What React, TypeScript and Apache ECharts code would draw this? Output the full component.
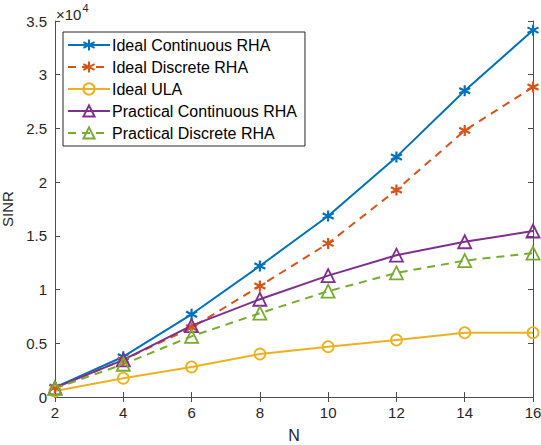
import React, { useEffect, useRef } from "react";
import * as echarts from "echarts";

const N = [2, 4, 6, 8, 10, 12, 14, 16];
const idealContinuous = [900, 3750, 7700, 12200, 16850, 22350, 28500, 34150];
const idealDiscrete = [850, 3450, 6450, 10330, 14300, 19270, 24800, 28850];
const idealULA = [550, 1750, 2800, 4000, 4680, 5300, 5980, 5980];
const practicalContinuous = [850, 3450, 6650, 9100, 11300, 13200, 14450, 15450];
const practicalDiscrete = [800, 3050, 5650, 7800, 9850, 11550, 12700, 13400];
const yTicks = [0, 5000, 10000, 15000, 20000, 25000, 30000, 35000];

const ASTERISK = "path://M0,-5L0,5M-4.33,-2.5L4.33,2.5M-4.33,2.5L4.33,-2.5";
const TRIANGLE = "path://M0,-6L5.2,3L-5.2,3Z";

export default function App() {
  const ref = useRef<HTMLDivElement>(null);
  useEffect(() => {
    const chart = echarts.init(ref.current!, null, { renderer: "svg" });
    const font = "Arial, 'Liberation Sans', sans-serif";
    const axisColor = "#4d4d4d";
    const textColor = "#262626";
    const mk = (
      name: string,
      data: number[],
      color: string,
      symbol: string,
      size: number,
      dashed: boolean,
      filled: boolean
    ) => ({
      name,
      type: "line",
      data: N.map((n, i) => [n, data[i]]),
      symbol,
      symbolSize: size,
      showAllSymbol: true,
      lineStyle: { color, width: 2, type: dashed ? [8, 6] : "solid" },
      itemStyle: {
        color: filled ? color : "rgba(255,255,255,0)",
        borderColor: color,
        borderWidth: filled ? 2.2 : 1.8,
      },
      emphasis: { disabled: true },
      z: 3,
    });
    chart.setOption({
      animation: false,
      textStyle: { fontFamily: font },
      grid: {
        left: 55,
        right: 8,
        top: 21,
        bottom: 48,
        containLabel: false,
        outerBoundsMode: "none",
      },
      legend: {
        orient: "vertical",
        left: 63,
        top: 32,
        backgroundColor: "#ffffff",
        borderColor: "#262626",
        borderWidth: 1,
        padding: [5, 8, 5, 4],
        itemGap: 6,
        itemWidth: 42,
        itemHeight: 14,
        textStyle: { fontSize: 16, color: "#000", fontFamily: font, padding: [0, 0, 0, -3] },
        data: [
          "Ideal Continuous RHA",
          "Ideal Discrete RHA",
          "Ideal ULA",
          "Practical Continuous RHA",
          "Practical Discrete RHA",
        ],
      },
      xAxis: [
        {
          type: "value",
          min: 2,
          max: 16,
          interval: 2,
          name: "N",
          nameLocation: "middle",
          nameGap: 30,
          nameTextStyle: { fontSize: 16, color: textColor },
          axisLine: { show: true, lineStyle: { color: axisColor, width: 1 } },
          axisTick: { show: true, inside: true, length: 5, lineStyle: { color: axisColor } },
          axisLabel: { fontSize: 15, color: textColor, margin: 8 },
          splitLine: { show: false },
        },
        {
          type: "value",
          position: "top",
          min: 2,
          max: 16,
          interval: 2,
          axisLine: { show: true, lineStyle: { color: axisColor, width: 1 } },
          axisTick: { show: true, inside: true, length: 5, lineStyle: { color: axisColor } },
          axisLabel: { show: false },
          splitLine: { show: false },
        },
      ],
      yAxis: [
        {
          type: "value",
          min: 0,
          max: 35000,
          interval: 5000,
          name: "SINR",
          nameLocation: "middle",
          nameGap: 34,
          nameTextStyle: { fontSize: 15, color: textColor },
          axisLine: { show: true, lineStyle: { color: axisColor, width: 1 } },
          axisTick: { show: true, inside: true, length: 5, lineStyle: { color: axisColor } },
          axisLabel: {
            fontSize: 15,
            color: textColor,
            margin: 8,
            formatter: (v: number) => (yTicks.includes(v) ? String(v / 10000) : ""),
          },
          splitLine: { show: false },
        },
        {
          type: "value",
          position: "right",
          min: 0,
          max: 35000,
          interval: 5000,
          axisLine: { show: true, lineStyle: { color: axisColor, width: 1 } },
          axisTick: { show: true, inside: true, length: 5, lineStyle: { color: axisColor } },
          axisLabel: { show: false },
          splitLine: { show: false },
        },
      ],
      graphic: [
        {
          type: "text",
          left: 56,
          top: 2,
          style: {
            text: "{a|×10}{b|4}",
            rich: {
              a: { fontSize: 15, fill: textColor, fontFamily: font, verticalAlign: "bottom", lineHeight: 20 },
              b: { fontSize: 11, fill: textColor, fontFamily: font, verticalAlign: "top", lineHeight: 20, padding: [0, 0, 9, 1] },
            },
          },
        },
      ],
      series: [
        mk("Ideal Continuous RHA", idealContinuous, "#0072BD", ASTERISK, 11, false, true),
        mk("Ideal Discrete RHA", idealDiscrete, "#D95319", ASTERISK, 11, true, true),
        mk("Ideal ULA", idealULA, "#EDB120", "circle", 11, false, false),
        mk("Practical Continuous RHA", practicalContinuous, "#7E2F8E", TRIANGLE, 13, false, false),
        mk("Practical Discrete RHA", practicalDiscrete, "#77AC30", TRIANGLE, 13, true, false),
      ],
    });
    return () => chart.dispose();
  }, []);
  return (
    <div
      ref={ref}
      style={{ position: "fixed", left: 0, top: 0, width: 541, height: 445, background: "#fff" }}
    />
  );
}
